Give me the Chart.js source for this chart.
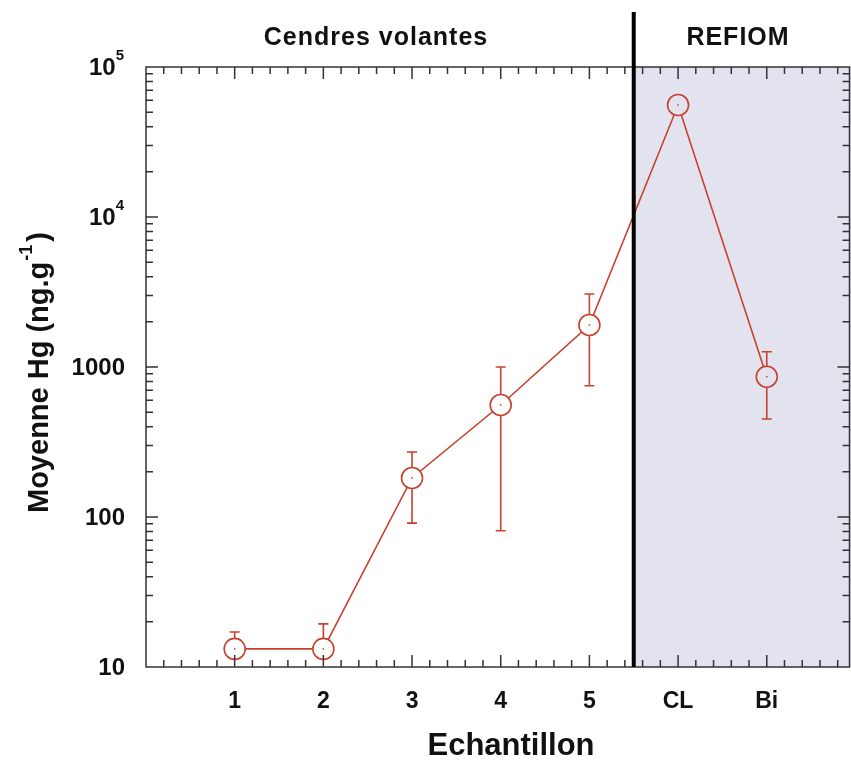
<!DOCTYPE html>
<html>
<head>
<meta charset="utf-8">
<script src="https://cdn.jsdelivr.net/npm/chart.js@4"></script>
<style>
  html, body { margin: 0; padding: 0; background: #fff; }
  #wrap { width: 851px; height: 760px; }
</style>
</head>
<body>
<div id="wrap"><canvas id="hgChart" width="851" height="760"></canvas></div>
<script>
// Data
const categories = ['1', '2', '3', '4', '5', 'CL', 'Bi'];
const positions = [1, 2, 3, 4, 5, 6, 7];
const meanHg = [13.2, 13.2, 182, 558, 1905, 55800, 861];
const errHigh = [17.1, 19.4, 271, 1000, 3066, null, 1264];
const errLow = [null, null, 91, 81, 750, null, 450];
const yTicks = [10, 100, 1000, 10000, 100000];
const yTickBase = ['10', '100', '1000', '10', '10'];
const yTickExp = ['', '', '', '4', '5'];
const groupLabels = ['Cendres volantes', 'REFIOM'];
const groupSplit = 5.5;

const red = '#c8402e';
const shade = 'rgb(227,227,239)';
const axisCol = '#333';
const font = '"Liberation Sans", Arial, sans-serif';

// Decorations: shaded block, error bars, axes frame, ticks, labels
const decor = {
  id: 'decor',
  beforeDatasetsDraw(chart) {
    const { ctx, chartArea: a, scales: { x, y } } = chart;
    ctx.save();
    ctx.fillStyle = shade;
    const xs = x.getPixelForValue(groupSplit);
    ctx.fillRect(xs, a.top, a.right - xs, a.bottom - a.top);

    // error bars
    ctx.strokeStyle = red;
    ctx.lineWidth = 1.6;
    positions.forEach((p, i) => {
      const px = x.getPixelForValue(p);
      const py = y.getPixelForValue(meanHg[i]);
      [errHigh[i], errLow[i]].forEach(v => {
        if (v == null) return;
        const ey = y.getPixelForValue(v);
        ctx.beginPath();
        ctx.moveTo(px, py);
        ctx.lineTo(px, ey);
        ctx.moveTo(px - 5, ey);
        ctx.lineTo(px + 5, ey);
        ctx.stroke();
      });
    });
    ctx.restore();
  },
  afterDatasetsDraw(chart) {
    const { ctx, chartArea: a, scales: { x, y } } = chart;
    ctx.save();

    // tiny dot at each marker centre
    ctx.fillStyle = red;
    positions.forEach((p, i) => {
      ctx.fillRect(x.getPixelForValue(p) - 0.75, y.getPixelForValue(meanHg[i]) - 0.75, 1.5, 1.5);
    });

    // frame
    const L = a.left, R = Math.min(a.right, 851) - 1.5, T = a.top, B = a.bottom;
    ctx.strokeStyle = axisCol;
    ctx.lineWidth = 1.5;
    ctx.strokeRect(L, T, R - L, B - T);

    // x ticks every 0.2, bottom and top
    ctx.beginPath();
    for (let k = 1; k * 0.2 < x.max; k++) {
      const v = k * 0.2;
      const px = x.getPixelForValue(v);
      const len = (k % 5 === 0) ? 12 : 7;
      ctx.moveTo(px, B); ctx.lineTo(px, B - len);
      ctx.moveTo(px, T); ctx.lineTo(px, T + len);
    }
    // y ticks, left and right
    for (let d = 1; d <= 4; d++) {
      for (let m = 1; m <= 9; m++) {
        const v = m * Math.pow(10, d);
        if (m === 1 && d === 1) continue;
        const py = y.getPixelForValue(v);
        const len = m === 1 ? 12 : 7;
        ctx.moveTo(L, py); ctx.lineTo(L + len, py);
        ctx.moveTo(R, py); ctx.lineTo(R - len, py);
      }
    }
    ctx.stroke();

    // divider between groups
    const xs = x.getPixelForValue(groupSplit);
    ctx.strokeStyle = '#000';
    ctx.lineWidth = 4;
    ctx.beginPath();
    ctx.moveTo(xs, 12);
    ctx.lineTo(xs, B);
    ctx.stroke();

    // y tick labels
    ctx.fillStyle = '#111';
    ctx.textBaseline = 'middle';
    yTicks.forEach((v, i) => {
      const py = y.getPixelForValue(v) + 1;
      if (yTickExp[i]) {
        ctx.font = 'bold 15px ' + font;
        ctx.textAlign = 'right';
        ctx.fillText(yTickExp[i], 124, py - 12);
        const ew = ctx.measureText(yTickExp[i]).width;
        ctx.font = 'bold 24px ' + font;
        ctx.fillText(yTickBase[i], 124 - ew, py);
      } else {
        ctx.font = 'bold 24px ' + font;
        ctx.textAlign = 'right';
        ctx.fillText(yTickBase[i], 125, py);
      }
    });

    // x tick labels
    ctx.font = 'bold 23px ' + font;
    ctx.textAlign = 'center';
    positions.forEach((p, i) => {
      ctx.fillText(categories[i], x.getPixelForValue(p), 702);
    });

    // group labels above the plot
    ctx.font = 'bold 25px ' + font;
    ctx.letterSpacing = '1px';
    ctx.fillText(groupLabels[0], 376, 38);
    ctx.fillText(groupLabels[1], 738, 38);
    ctx.letterSpacing = '0px';

    // axis titles
    ctx.font = 'bold 31px ' + font;
    ctx.fillText('Echantillon', 511, 746);

    ctx.translate(48, 0);
    ctx.rotate(-Math.PI / 2);
    ctx.textAlign = 'left';
    ctx.textBaseline = 'alphabetic';
    let cx = -513;
    const mainT = 'Moyenne Hg (ng.g';
    ctx.font = 'bold 29px ' + font;
    ctx.fillText(mainT, cx, 0);
    cx += ctx.measureText(mainT).width + 1;
    ctx.font = 'bold 18px ' + font;
    ctx.fillText('-1', cx, -16);
    cx += ctx.measureText('-1').width + 3;
    ctx.font = 'bold 29px ' + font;
    ctx.fillText(')', cx, 0);
    ctx.restore();
  }
};

const ctxHg = document.getElementById('hgChart').getContext('2d');
const hgChart = new Chart(ctxHg, {
  type: 'line',
  data: {
    datasets: [{
      label: 'Moyenne Hg',
      data: positions.map((p, i) => ({ x: p, y: meanHg[i] })),
      borderColor: red,
      borderWidth: 1.6,
      pointRadius: 10.5,
      pointBorderWidth: 1.6,
      pointBorderColor: red,
      pointBackgroundColor: positions.map(p => p > groupSplit ? shade : '#fff'),
      tension: 0,
      fill: false
    }]
  },
  options: {
    responsive: false,
    animation: false,
    layout: { autoPadding: false, padding: { left: 146, top: 67, right: 0, bottom: 93 } },
    plugins: { legend: { display: false }, tooltip: { enabled: false } },
    scales: {
      x: { type: 'linear', min: 0, max: 7.95, display: false },
      y: { type: 'logarithmic', min: 10, max: 100000, display: false }
    }
  },
  plugins: [decor]
});
</script>
</body>
</html>
